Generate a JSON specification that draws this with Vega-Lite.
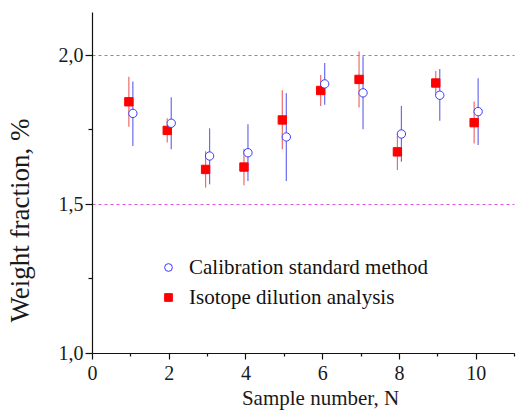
{
  "$schema": "https://vega.github.io/schema/vega-lite/v6.json",
  "width": 422,
  "height": 341,
  "padding": {"left": 92, "top": 12, "right": 6, "bottom": 59},
  "autosize": {"type": "none"},
  "background": "white",
  "config": {
    "view": {"stroke": null},
    "font": "Liberation Serif",
    "axis": {"labelFont": "Liberation Serif", "titleFont": "Liberation Serif", "labelFontSize": 20, "titleFontSize": 21, "labelColor": "#1a1a1a", "titleColor": "#1a1a1a", "titleFontWeight": "normal", "domainColor": "#111", "tickColor": "#111", "domainWidth": 1.2, "tickWidth": 1.2}
  },
  "data": {
    "values": [
      {"N": 1, "method": "Calibration standard method", "value": 1.804, "lo": 1.695, "hi": 1.911},
      {"N": 2, "method": "Calibration standard method", "value": 1.771, "lo": 1.684, "hi": 1.858},
      {"N": 3, "method": "Calibration standard method", "value": 1.661, "lo": 1.566, "hi": 1.754},
      {"N": 4, "method": "Calibration standard method", "value": 1.672, "lo": 1.577, "hi": 1.768},
      {"N": 5, "method": "Calibration standard method", "value": 1.725, "lo": 1.577, "hi": 1.872},
      {"N": 6, "method": "Calibration standard method", "value": 1.903, "lo": 1.833, "hi": 1.973},
      {"N": 7, "method": "Calibration standard method", "value": 1.873, "lo": 1.751, "hi": 1.996},
      {"N": 8, "method": "Calibration standard method", "value": 1.735, "lo": 1.642, "hi": 1.829},
      {"N": 9, "method": "Calibration standard method", "value": 1.865, "lo": 1.779, "hi": 1.953},
      {"N": 10, "method": "Calibration standard method", "value": 1.810, "lo": 1.698, "hi": 1.922},
      {"N": 1, "method": "Isotope dilution analysis", "value": 1.843, "lo": 1.759, "hi": 1.927},
      {"N": 2, "method": "Isotope dilution analysis", "value": 1.747, "lo": 1.706, "hi": 1.788},
      {"N": 3, "method": "Isotope dilution analysis", "value": 1.616, "lo": 1.555, "hi": 1.677},
      {"N": 4, "method": "Isotope dilution analysis", "value": 1.624, "lo": 1.563, "hi": 1.685},
      {"N": 5, "method": "Isotope dilution analysis", "value": 1.782, "lo": 1.684, "hi": 1.882},
      {"N": 6, "method": "Isotope dilution analysis", "value": 1.881, "lo": 1.829, "hi": 1.933},
      {"N": 7, "method": "Isotope dilution analysis", "value": 1.918, "lo": 1.824, "hi": 2.012},
      {"N": 8, "method": "Isotope dilution analysis", "value": 1.675, "lo": 1.614, "hi": 1.734},
      {"N": 9, "method": "Isotope dilution analysis", "value": 1.906, "lo": 1.866, "hi": 1.946},
      {"N": 10, "method": "Isotope dilution analysis", "value": 1.773, "lo": 1.703, "hi": 1.844}
    ]
  },
  "encoding": {
    "x": {
      "field": "N", "type": "quantitative",
      "scale": {"domain": [0, 11], "nice": false, "zero": false},
      "axis": {
        "title": "Sample number, N",
        "values": [0, 1, 2, 3, 4, 5, 6, 7, 8, 9, 10, 11],
        "labelExpr": "datum.value % 2 == 0 && datum.value <= 10 ? datum.label : ''",
        "tickSize": {"condition": {"test": "datum.value % 2 == 0", "value": 6}, "value": 3},
        "labelPadding": 4,
        "titleX": 228,
        "titleY": 51,
        "titleAlign": "center",
        "titleBaseline": "alphabetic",
        "grid": false,
        "labelFlush": false
      }
    },
    "y": {
      "field": "value", "type": "quantitative",
      "scale": {"domain": [1.0, 2.144295302], "nice": false, "zero": false},
      "axis": {
        "title": "Weight fraction,  %",
        "titleFontSize": 27,
        "titleAngle": -90,
        "titleX": -64,
        "titleY": 208,
        "titleAlign": "center",
        "titleBaseline": "alphabetic",
        "values": [1.0, 1.25, 1.5, 1.75, 2.0],
        "labelExpr": "datum.value == 1.25 || datum.value == 1.75 ? '' : replace(format(datum.value, '.1f'), '.', ',')",
        "tickSize": {"condition": {"test": "datum.value == 1.25 || datum.value == 1.75", "value": 4}, "value": 7},
        "labelPadding": 2,
        "grid": true,
        "gridColor": "#dd55dd",
        "gridDash": [3, 3],
        "gridWidth": 1,
        "gridOpacity": {"condition": {"test": "datum.value == 1.5 || datum.value == 2", "value": 1}, "value": 0},
        "labelFlush": false
      }
    }
  },
  "layer": [
    {
      "transform": [{"filter": "datum.method == 'Isotope dilution analysis'"}],
      "mark": {"type": "rule", "stroke": "#ee6b6b", "strokeWidth": 1.2, "xOffset": -1.5},
      "encoding": {"y": {"field": "lo", "type": "quantitative"}, "y2": {"field": "hi"}}
    },
    {
      "transform": [{"filter": "datum.method == 'Calibration standard method'"}],
      "mark": {"type": "rule", "stroke": "#6b6bee", "strokeWidth": 1.2, "xOffset": 2.5},
      "encoding": {"y": {"field": "lo", "type": "quantitative"}, "y2": {"field": "hi"}}
    },
    {
      "transform": [{"filter": "datum.method == 'Isotope dilution analysis'"}],
      "mark": {"type": "point", "xOffset": -1.5, "strokeWidth": 1, "opacity": 1},
      "encoding": {
        "shape": {"field": "method", "type": "nominal", "scale": {"domain": ["Calibration standard method", "Isotope dilution analysis"], "range": ["circle", "square"]}},
        "fill": {"field": "method", "type": "nominal", "scale": {"domain": ["Calibration standard method", "Isotope dilution analysis"], "range": ["#ffffff", "#ff0000"]}},
        "stroke": {"field": "method", "type": "nominal", "scale": {"domain": ["Calibration standard method", "Isotope dilution analysis"], "range": ["#3b3bff", "#ff0000"]}},
        "size": {"value": 70}
      }
    },
    {
      "transform": [{"filter": "datum.method == 'Calibration standard method'"}],
      "mark": {"type": "point", "xOffset": 2.5, "strokeWidth": 1, "opacity": 1},
      "encoding": {
        "shape": {"field": "method", "type": "nominal", "title": null, "legend": {"orient": "none", "legendX": 66, "legendY": 245, "title": null, "labelFont": "Liberation Serif", "labelFontSize": 21, "labelColor": "#111", "symbolSize": 60, "rowPadding": 8, "labelOffset": 10, "symbolStrokeWidth": 1, "labelLimit": 400}},
        "fill": {"field": "method", "type": "nominal"},
        "stroke": {"field": "method", "type": "nominal"},
        "size": {"value": 70}
      }
    }
  ]
}
